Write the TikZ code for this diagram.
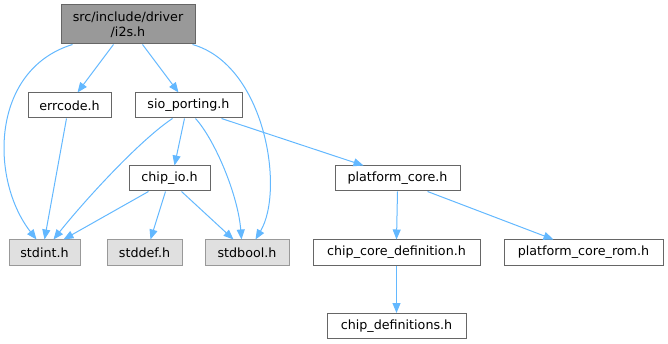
\documentclass[tikz,border=0pt]{standalone}
\usepackage{fontspec}
\setmainfont{DejaVu Sans}
\usetikzlibrary{arrows.meta,calc}
\definecolor{edgec}{HTML}{63B8FF}
\definecolor{bord}{HTML}{666666}
\definecolor{sysbord}{HTML}{999999}
\definecolor{sysfill}{HTML}{E0E0E0}
\definecolor{topfill}{HTML}{999999}
\begin{document}
\begin{tikzpicture}[x=1pt,y=-1pt,
  box/.style={draw=bord, fill=white, line width=1pt, inner sep=0pt, minimum height=25pt,
    font=\fontsize{12.7}{15}\selectfont, text=black},
  sysbox/.style={box, draw=sysbord, fill=sysfill},
  topbox/.style={box, fill=topfill, align=center, minimum height=39pt},
  edge/.style={draw=edgec, line width=1pt, -{Triangle[length=10pt,width=8pt]}}]
\useasboundingbox (0,0) rectangle (668,344);

\node[topbox, minimum width=134pt] (i2s) at (128,24.5) {src/include/driver\\/i2s.h};
\node[box, minimum width=83pt] (err) at (69.5,105.5) {errcode.h};
\node[box, minimum width=107pt] (sio) at (188.5,105.5) {sio\_porting.h};
\node[box, minimum width=81pt] (cio) at (169.5,178.5) {chip\_io.h};
\node[box, minimum width=125pt] (pc) at (397.5,178.5) {platform\_core.h};
\node[sysbox, minimum width=71pt] (sint) at (44.5,252.5) {stdint.h};
\node[sysbox, minimum width=75pt] (sdef) at (144.5,252.5) {stddef.h};
\node[sysbox, minimum width=84pt] (sbool) at (247,252.5) {stdbool.h};
\node[box, minimum width=167pt] (ccd) at (396.5,252.5) {chip\_core\_definition.h};
\node[box, minimum width=159pt] (pcr) at (583.5,252.5) {platform\_core\_rom.h};
\node[box, minimum width=139pt] (cdef) at (396.5,326) {chip\_definitions.h};

% i2s edges
\draw[edge] ($(i2s.south west)+(53,0)$) -- ($(err.north west)+(50,0)$);
\draw[edge] ($(i2s.south west)+(82,0)$) -- ($(sio.north west)+(44,0)$);
\draw[edge] ($(i2s.south west)+(12,0)$) .. controls (-10,70) and (-10,180) .. ($(sint.north west)+(28,0)$);
\draw[edge] ($(i2s.south west)+(132,0)$) .. controls (265,65) and (285,190) .. ($(sbool.north west)+(51,0)$);
% errcode
\draw[edge] ($(err.south west)+(39,0)$) -- ($(sint.north west)+(36,0)$);
% sio_porting
\draw[edge] ($(sio.south west)+(38,0)$) .. controls (140,140) and (85,200) .. ($(sint.north west)+(45,0)$);
\draw[edge] ($(sio.south west)+(50,0)$) -- ($(cio.north west)+(46,0)$);
\draw[edge] ($(sio.south west)+(61,0)$) .. controls (215,140) and (238,195) .. ($(sbool.north west)+(37,0)$);
\draw[edge] ($(sio.south west)+(87,0)$) -- ($(pc.north west)+(29,0)$);
% chip_io
\draw[edge] ($(cio.south west)+(20,0)$) -- ($(sint.north west)+(55,0)$);
\draw[edge] ($(cio.south west)+(37,0)$) -- ($(sdef.north west)+(44,0)$);
\draw[edge] ($(cio.south west)+(53,0)$) -- ($(sbool.north west)+(29,0)$);
% platform_core
\draw[edge] (pc.south) -- (ccd.north);
\draw[edge] ($(pc.south west)+(93,0)$) -- ($(pcr.north west)+(50,0)$);
% chip_core_definition
\draw[edge] (ccd.south) -- (cdef.north);
\end{tikzpicture}
\end{document}
